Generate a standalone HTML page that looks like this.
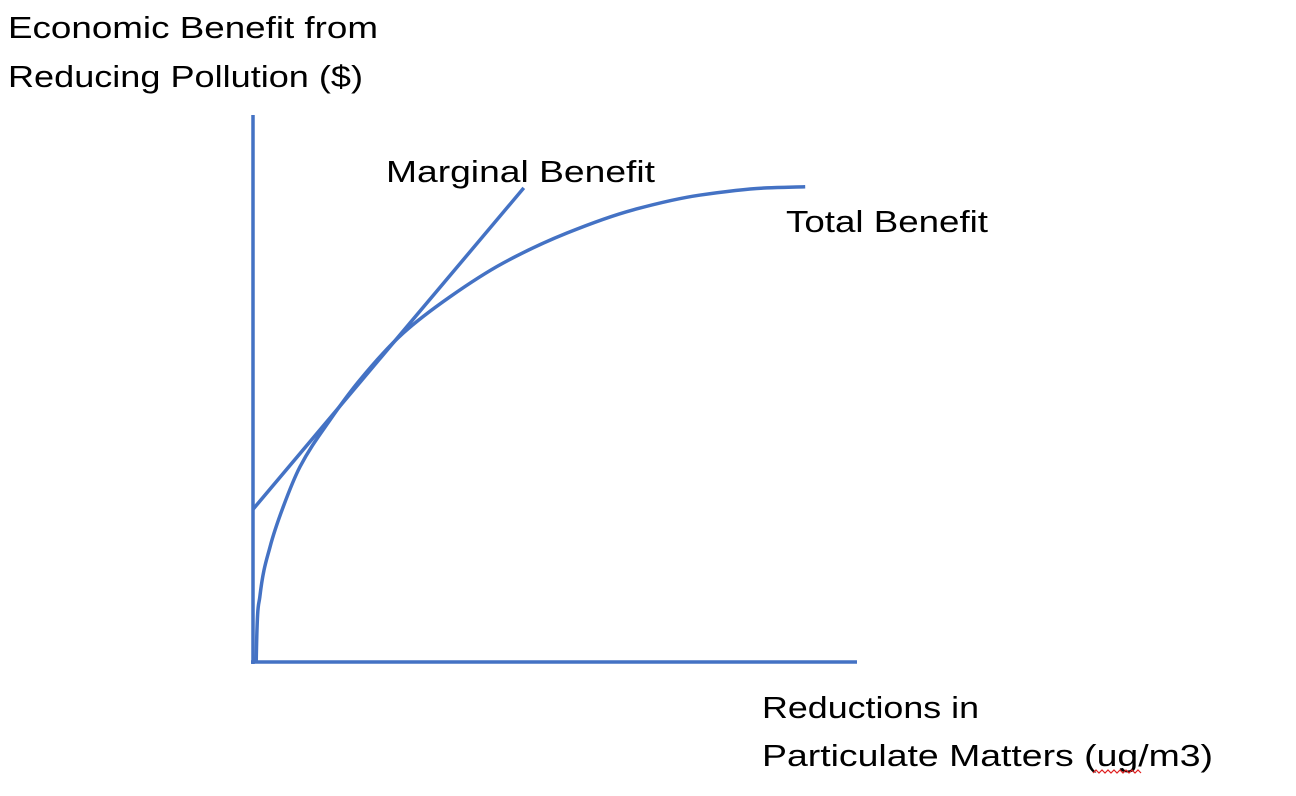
<!DOCTYPE html>
<html>
<head>
<meta charset="utf-8">
<style>
  html, body { margin: 0; padding: 0; background: #ffffff; }
  svg { display: block; }
  text { font-family: "Liberation Sans", Arial, sans-serif; font-size: 31px; fill: #000; }
</style>
</head>
<body>
<svg id="chart" width="1296" height="796" viewBox="0 0 1296 796">
  <text x="8" y="38" textLength="370" lengthAdjust="spacingAndGlyphs">Economic Benefit from</text>
  <text x="8" y="87" textLength="355" lengthAdjust="spacingAndGlyphs">Reducing Pollution ($)</text>
  <text x="386" y="182" textLength="269" lengthAdjust="spacingAndGlyphs">Marginal Benefit</text>
  <text x="786" y="232" textLength="202" lengthAdjust="spacingAndGlyphs">Total Benefit</text>
  <text x="762" y="718" textLength="217" lengthAdjust="spacingAndGlyphs">Reductions in</text>
  <text x="762" y="766" textLength="451" lengthAdjust="spacingAndGlyphs">Particulate Matters (ug/m3)</text>
  <path d="M1093,773 l3,-3 l3,3 l3,-3 l3,3 l3,-3 l3,3 l3,-3 l3,3 l3,-3 l3,3 l3,-3 l3,3 l3,-3 l3,3 l3,-3 l3,3" fill="none" stroke="#e02020" stroke-width="1.2"/>
  <line x1="253" y1="115" x2="253" y2="664" stroke="#4472C4" stroke-width="3.5"/>
  <line x1="251" y1="662" x2="857" y2="662" stroke="#4472C4" stroke-width="3.5"/>
  <g id="series"></g>
</svg>
<script>
const totalX = [0.2, 0.8, 2.5, 4.7, 7.5, 12.5, 17.5, 24.7, 32.5, 41.3, 52, 63, 74.2, 85.3, 91.7];
const totalY = [0, 11.8, 20.9, 28.2, 35.5, 44, 51.3, 59.8, 66.4, 72.5, 78, 82.2, 84.9, 86.2, 86.4];
const marginalX = [-0.3, 44.8];
const marginalY = [27.8, 86.2];

function sx(v) { return 255 + v * 6; }
function sy(v) { return 662 - v * 5.5; }

const g = document.getElementById('series');
const NS = 'http://www.w3.org/2000/svg';

// monotone cubic interpolation (Fritsch-Carlson) in pixel space
const px = totalX.map(sx), py = totalY.map(sy);
const n = px.length;
const dl = [], m = [];
for (let i = 0; i < n - 1; i++) dl.push((py[i + 1] - py[i]) / (px[i + 1] - px[i]));
m[0] = dl[0] * 3; m[n - 1] = dl[n - 2];
for (let i = 1; i < n - 1; i++) {
  if (dl[i - 1] * dl[i] <= 0) m[i] = 0;
  else {
    const h0 = px[i] - px[i - 1], h1 = px[i + 1] - px[i];
    const w1 = 2 * h1 + h0, w2 = h1 + 2 * h0;
    m[i] = (w1 + w2) / (w1 / dl[i - 1] + w2 / dl[i]);
  }
}
let d = 'M' + px[0] + ',' + py[0];
for (let i = 0; i < n - 1; i++) {
  const h = (px[i + 1] - px[i]) / 3;
  d += ' C' + (px[i] + h) + ',' + (py[i] + m[i] * h) + ' ' + (px[i + 1] - h) + ',' + (py[i + 1] - m[i + 1] * h) + ' ' + px[i + 1] + ',' + py[i + 1];
}
const tb = document.createElementNS(NS, 'path');
tb.setAttribute('d', d);
tb.setAttribute('fill', 'none');
tb.setAttribute('stroke', '#4472C4');
tb.setAttribute('stroke-width', '3.5');


g.appendChild(tb);

const mb = document.createElementNS(NS, 'line');
mb.setAttribute('x1', sx(marginalX[0]));
mb.setAttribute('y1', sy(marginalY[0]));
mb.setAttribute('x2', sx(marginalX[1]));
mb.setAttribute('y2', sy(marginalY[1]));
mb.setAttribute('stroke', '#4472C4');
mb.setAttribute('stroke-width', '3.5');


g.appendChild(mb);
</script>
</body>
</html>
